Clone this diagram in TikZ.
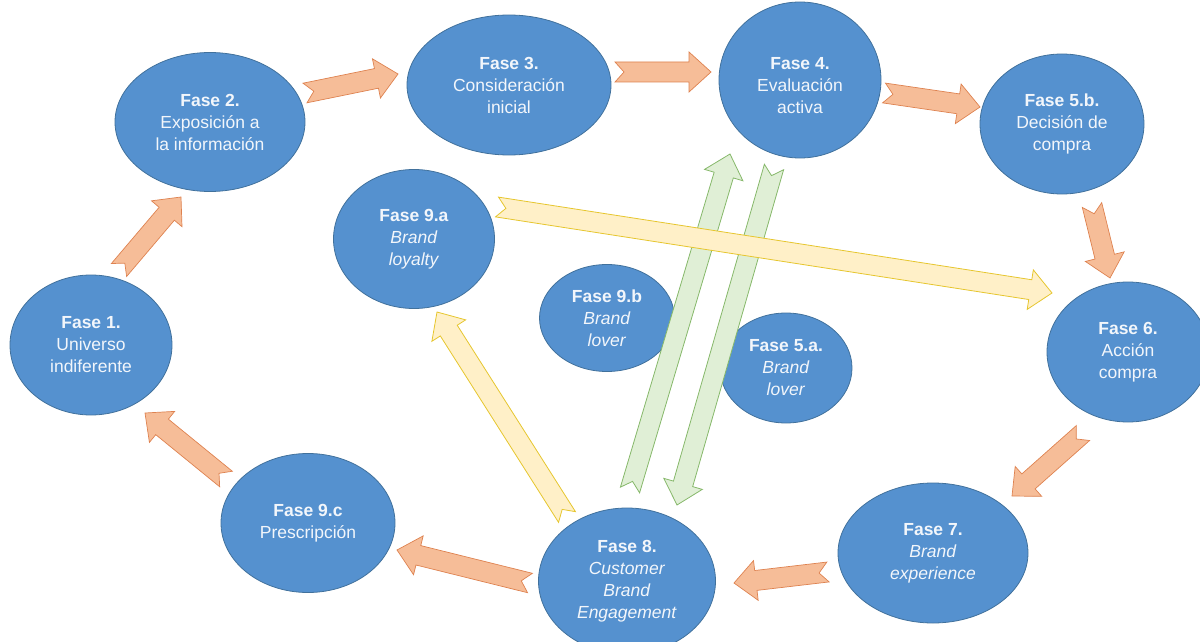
\documentclass[tikz,border=0pt]{standalone}
\usepackage{fontspec}
\setmainfont{Liberation Sans}
\usetikzlibrary{shapes.geometric,calc}
\definecolor{phasefill}{HTML}{5591CF}
\definecolor{phasedraw}{HTML}{41719C}
\definecolor{phasetext}{HTML}{F2F6FB}
\definecolor{orfill}{HTML}{F6BD98}
\definecolor{ordraw}{HTML}{DE8250}
\definecolor{yefill}{HTML}{FFF0C8}
\definecolor{yedraw}{HTML}{E6C62E}
\definecolor{grfill}{HTML}{E0EFD6}
\definecolor{grdraw}{HTML}{86B86A}
\newcommand\notched[3]{%
  \coordinate (nh) at ($(#3)!22pt!(#2)$);
  \draw[#1] ($(#2)!10pt!-90:(#3)$) -- ($(nh)!10pt!-90:(#3)$) -- ($(nh)!20pt!-90:(#3)$) -- (#3)
    -- ($(nh)!20pt!90:(#3)$) -- ($(nh)!10pt!90:(#3)$) -- ($(#2)!10pt!90:(#3)$) -- ($(#2)!9pt!(#3)$) -- cycle;
}
\tikzset{
  phase/.style={ellipse, fill=phasefill, draw=phasedraw, line width=0.8pt, inner sep=0pt,
    text=phasetext, align=center, font=\fontsize{17.5}{22}\selectfont},
  phasetxt/.style={text=phasetext, align=center, font=\fontsize{17.5}{22}\selectfont, inner sep=0pt},
  orarrow/.style={fill=orfill, draw=ordraw, line width=0.7pt, line join=miter},
  yearrow/.style={fill=yefill, draw=yedraw, line width=0.8pt, line join=miter},
  grarrow/.style={fill=grfill, draw=grdraw, line width=0.8pt, line join=miter}
}
\begin{document}
\begin{tikzpicture}[x=1pt,y=-1pt]
\useasboundingbox (0,0) rectangle (1200,642);
% phases
\node[phase, minimum width=162pt, minimum height=140pt] (p1) at (91,345) {\textbf{Fase 1.}\\Universo\\indiferente};
\node[phase, minimum width=190pt, minimum height=139pt] (p2) at (210,122) {\textbf{Fase 2.}\\Exposición a\\la información};
\node[phase, minimum width=204pt, minimum height=140pt] (p3) at (509,85) {\textbf{Fase 3.}\\Consideración\\inicial};
\node[phase, minimum width=162pt, minimum height=156pt] (p4) at (800,80) {};
\node[phasetxt] (p4t) at (p4.center) [yshift=-6pt] {\textbf{Fase 4.}\\Evaluación\\activa};
\node[phase, minimum width=164pt, minimum height=140pt] (p5b) at (1062,124) {\textbf{Fase 5.b.}\\Decisión de\\compra};
\node[phase, minimum width=162pt, minimum height=140pt] (p6) at (1128,352) {\textbf{Fase 6.}\\Acción\\compra};
\node[phase, minimum width=190pt, minimum height=140pt] (p7) at (933,553) {\textbf{Fase 7.}\\\textit{Brand}\\\textit{experience}};
\node[phase, minimum width=177pt, minimum height=146pt] (p8) at (627,581) {\textbf{Fase 8.}\\\textit{Customer}\\\textit{Brand}\\\textit{Engagement}};
\node[phase, minimum width=174pt, minimum height=139pt] (p9c) at (308,523) {\textbf{Fase 9.c}\\Prescripción};
\node[phase, minimum width=161pt, minimum height=139pt] (p9a) at (414,239) {\textbf{Fase 9.a}\\\textit{Brand}\\\textit{loyalty}};
\node[phase, minimum width=135pt, minimum height=107pt] (p9b) at (607,318) {\textbf{Fase 9.b}\\\textit{Brand}\\\textit{lover}};
\node[phase, minimum width=132pt, minimum height=110pt] (p5a) at (786,368) {\textbf{Fase 5.a.}\\\textit{Brand}\\\textit{lover}};
% arrow end points
\coordinate (o1t) at (119,270);  \coordinate (o1h) at (181,197);
\coordinate (o2t) at (305,93);   \coordinate (o2h) at (398,74);
\coordinate (o3t) at (615,72);   \coordinate (o3h) at (711,72);
\coordinate (o4t) at (884,93);   \coordinate (o4h) at (980,107);
\coordinate (o5t) at (1092,205); \coordinate (o5h) at (1110,278);
\coordinate (o6t) at (1083,433); \coordinate (o6h) at (1012,496);
\coordinate (o7t) at (828,572);  \coordinate (o7h) at (734,583);
\coordinate (o8t) at (530,583);  \coordinate (o8h) at (397,550);
\coordinate (o9t) at (226,479);  \coordinate (o9h) at (145,413);
\coordinate (y1t) at (497,207);  \coordinate (y1h) at (1052,293);
\coordinate (y2t) at (567,517);  \coordinate (y2h) at (437,312);
\coordinate (g1t) at (630,490);  \coordinate (g1h) at (730,154);
\coordinate (g2t) at (774,167);  \coordinate (g2h) at (677,505);
% orange cycle
\notched{orarrow}{o1t}{o1h}
\notched{orarrow}{o2t}{o2h}
\notched{orarrow}{o3t}{o3h}
\notched{orarrow}{o4t}{o4h}
\notched{orarrow}{o5t}{o5h}
\notched{orarrow}{o6t}{o6h}
\notched{orarrow}{o7t}{o7h}
\notched{orarrow}{o8t}{o8h}
\notched{orarrow}{o9t}{o9h}
% green
\notched{grarrow}{g1t}{g1h}
\notched{grarrow}{g2t}{g2h}
% yellow
\notched{yearrow}{y2t}{y2h}
\notched{yearrow}{y1t}{y1h}
\end{tikzpicture}
\end{document}
